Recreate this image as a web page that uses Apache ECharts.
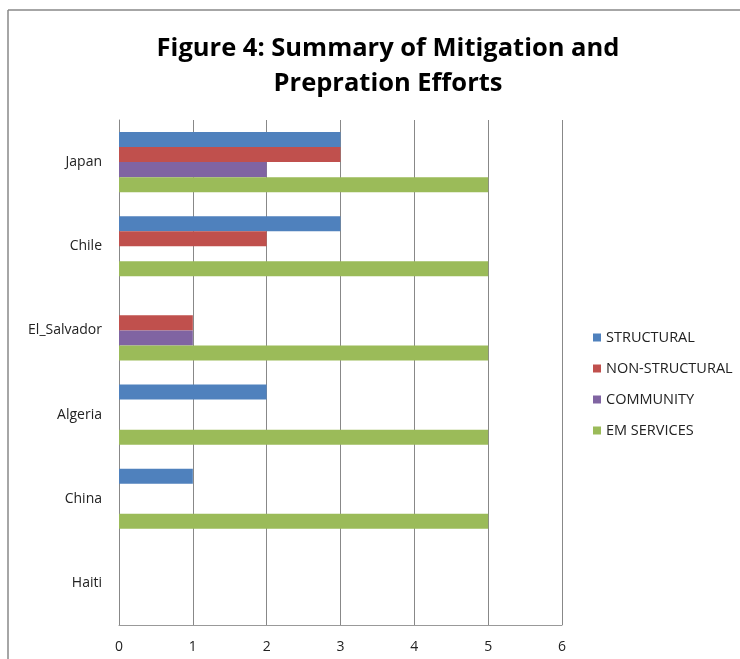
<!DOCTYPE html>
<html>
<head>
<meta charset="utf-8">
<script src="https://cdn.jsdelivr.net/npm/echarts@6/dist/echarts.min.js"></script>
<style>html,body{margin:0;padding:0;background:#fff}#c{width:740px;height:659px}</style>
</head>
<body>
<div id="c"></div>
<script>
const categories = ['Japan', 'Chile', 'El_Salvador', 'Algeria', 'China', 'Haiti'];
const structural = [3, 3, 0, 2, 1, 0];
const nonStructural = [3, 2, 1, 0, 0, 0];
const community = [2, 0, 1, 0, 0, 0];
const emServices = [5, 5, 5, 5, 5, 0];
const xTicks = [0, 1, 2, 3, 4, 5, 6];
const seriesNames = ['STRUCTURAL', 'NON-STRUCTURAL', 'COMMUNITY', 'EM SERVICES'];
const colors = ['#4F81BD', '#C0504D', '#8064A2', '#9BBB59'];
const seriesData = [structural, nonStructural, community, emServices];

const font = 'Open Sans';
const chart = echarts.init(document.getElementById('c'));
chart.setOption({
  animation: false,
  color: colors,
  title: {
    text: 'Figure 4: Summary of Mitigation and\nPrepration Efforts',
    left: 383, top: 26, textAlign: 'center',
    textStyle: { fontFamily: font, fontWeight: 'bold', fontSize: 25.5, lineHeight: 35, color: '#000' }
  },
  legend: {
    orient: 'vertical', left: 593, top: 329.5, itemGap: 15, padding: 0,
    itemWidth: 8, itemHeight: 8, icon: 'rect',
    data: seriesNames,
    textStyle: { fontFamily: font, fontSize: 14.5, lineHeight: 16, color: '#222' }
  },
  grid: { left: 119, right: 178, top: 120, bottom: 34, containLabel: false },
  xAxis: {
    type: 'value', min: xTicks[0], max: xTicks[xTicks.length - 1], interval: 1,
    axisLine: { show: true, lineStyle: { color: '#999' } },
    axisTick: { show: false },
    splitLine: { show: true, lineStyle: { color: '#888' } },
    axisLabel: { margin: 15, fontFamily: font, fontSize: 14, color: '#222' }
  },
  yAxis: {
    type: 'category', data: categories, inverse: true,
    axisLine: { show: true, lineStyle: { color: '#888' } },
    axisTick: { show: false },
    axisLabel: { margin: 17, fontFamily: font, fontSize: 14, color: '#222' }
  },
  series: seriesNames.map((n, i) => ({
    name: n, type: 'bar', data: seriesData[i],
    barGap: '0%', barCategoryGap: '28.5%'
  })),
  graphic: [
    { type: 'line', shape: { x1: 8, y1: 10, x2: 740, y2: 10 }, style: { stroke: '#888', lineWidth: 1.5 } },
    { type: 'line', shape: { x1: 8, y1: 10, x2: 8, y2: 659 }, style: { stroke: '#888', lineWidth: 1.5 } }
  ]
});
</script>
</body>
</html>
